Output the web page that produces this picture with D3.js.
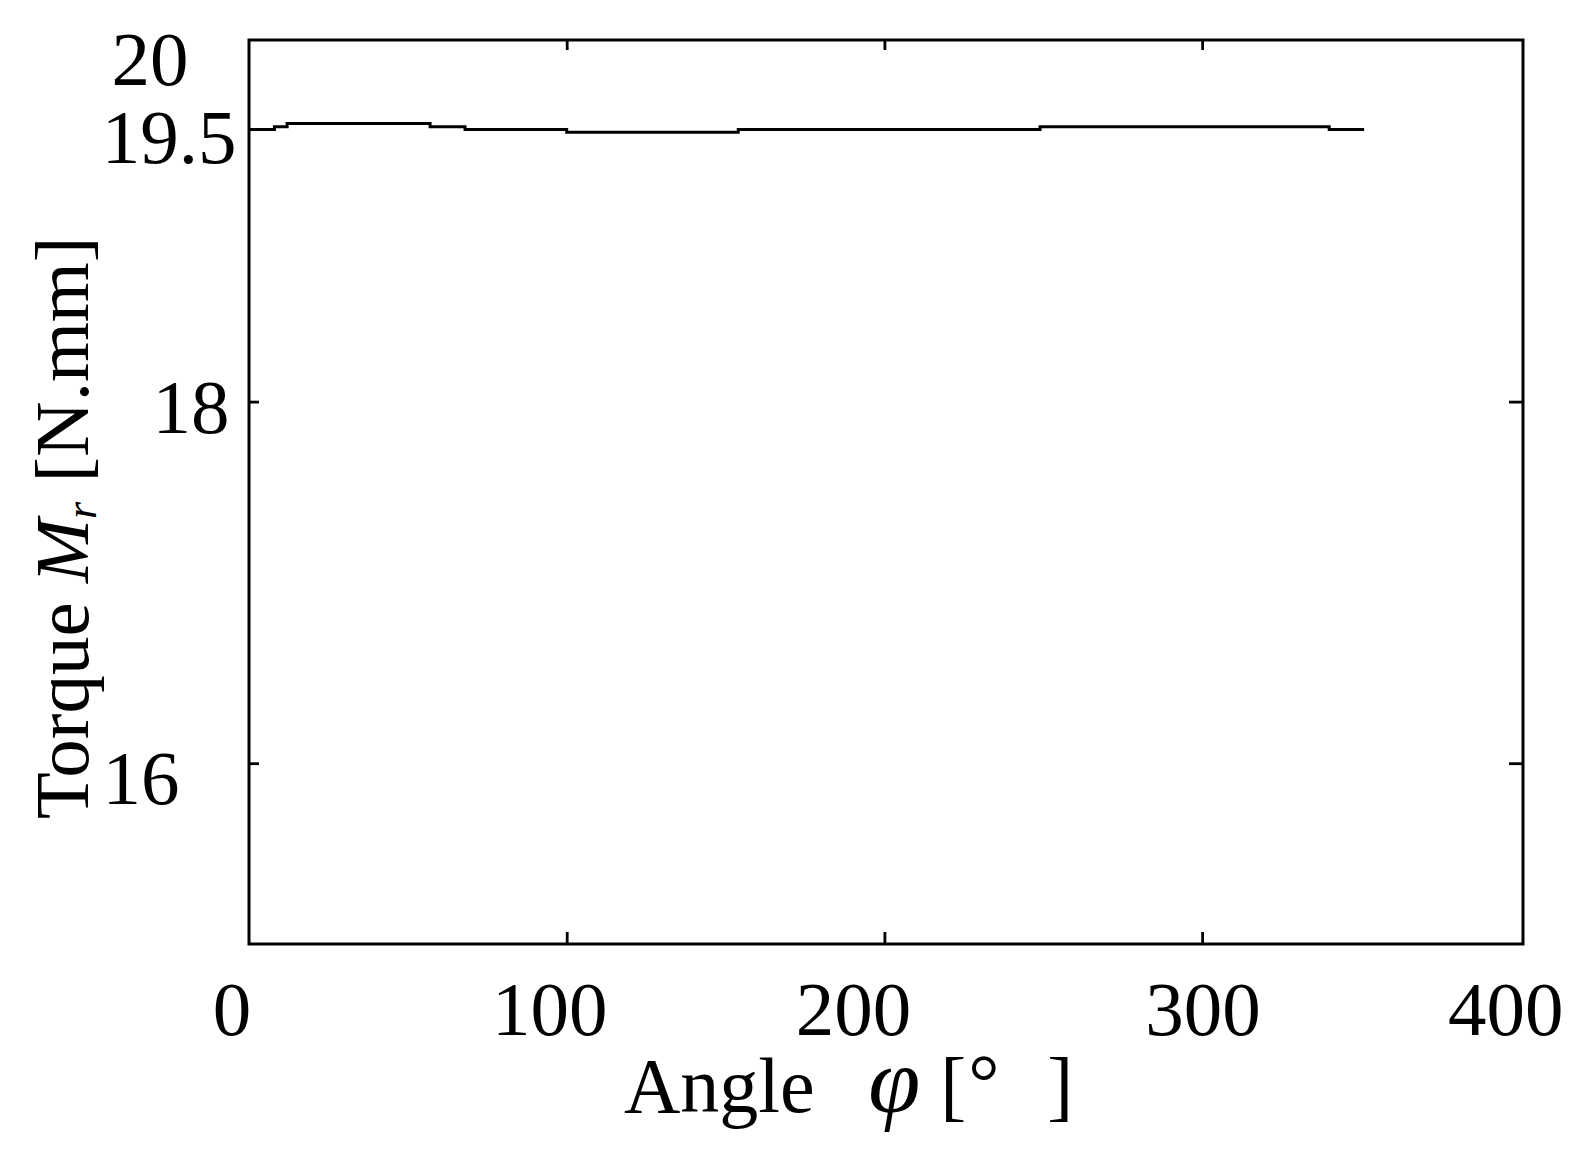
<!DOCTYPE html>
<html>
<head>
<meta charset="utf-8">
<script src="https://cdn.jsdelivr.net/npm/d3@7"></script>
<style>
  body { margin: 0; background: #fff; }
  text { font-family: "Liberation Serif", "Times New Roman", serif; fill: #000; }
</style>
</head>
<body>
<div id="chart"></div>
<script>
// data
const angles = [0, 8, 12, 57, 68, 100, 154, 249, 340, 351];
const torque = [19.505, 19.52, 19.538, 19.52, 19.505, 19.49, 19.505, 19.52, 19.505, 19.505];

const xTicks = [0, 100, 200, 300, 400];
const xTickLabels = ["0", "100", "200", "300", "400"];
const yTicks = [16, 18, 19.5, 20];
const yTickLabels = ["16", "18", "19.5", "20"];

// layout
const W = 1586, H = 1161;
const margin = {top: 40, right: 63, bottom: 217, left: 249};

const svg = d3.select("#chart")
  .append("svg")
  .attr("width", W)
  .attr("height", H);

const x = d3.scaleLinear()
  .domain([0, 401])
  .range([margin.left, W - margin.right]);

const y = d3.scaleLinear()
  .domain([15, 20])
  .range([H - margin.bottom, margin.top]);

// inner ticks (no labels) on all four sides
svg.append("g")
  .attr("transform", `translate(0,${y(15)})`)
  .call(d3.axisTop(x).tickValues([100, 200, 300]).tickSize(12).tickFormat(""))
  .call(g => g.select(".domain").remove());

svg.append("g")
  .attr("transform", `translate(0,${y(20)})`)
  .call(d3.axisBottom(x).tickValues([100, 200, 300]).tickSize(10).tickFormat(""))
  .call(g => g.select(".domain").remove());

svg.append("g")
  .attr("transform", `translate(${x(0)},0)`)
  .call(d3.axisRight(y).tickValues([16, 18]).tickSize(10).tickFormat(""))
  .call(g => g.select(".domain").remove());

svg.append("g")
  .attr("transform", `translate(${x(401)},0)`)
  .call(d3.axisLeft(y).tickValues([16, 18]).tickSize(14).tickFormat(""))
  .call(g => g.select(".domain").remove());

svg.selectAll(".tick line")
  .attr("stroke", "#000")
  .attr("stroke-width", 2.8);

// frame
svg.append("rect")
  .attr("x", x(0))
  .attr("y", y(20))
  .attr("width", x(401) - x(0))
  .attr("height", y(15) - y(20))
  .attr("fill", "none")
  .attr("stroke", "#000")
  .attr("stroke-width", 3);

// x tick labels (placed a bit off their ticks, like the original)
const xNudge = [-17, -17, -31, 1, -14];
svg.append("g")
  .selectAll("text")
  .data(xTicks)
  .join("text")
  .attr("x", (d, i) => x(d) + xNudge[i])
  .attr("y", y(15) + 91)
  .attr("text-anchor", "middle")
  .style("font-size", "77px")
  .text((d, i) => xTickLabels[i]);

// y tick labels
const yNudge = [[-108, 41], [-58, 31], [-80, 33], [-99, 45]];
svg.append("g")
  .selectAll("text")
  .data(yTicks)
  .join("text")
  .attr("x", (d, i) => x(0) + yNudge[i][0])
  .attr("y", (d, i) => y(d) + yNudge[i][1])
  .attr("text-anchor", "middle")
  .style("font-size", "77px")
  .text((d, i) => yTickLabels[i]);

// the curve
const line = d3.line()
  .x((d, i) => x(angles[i]))
  .y(d => y(d))
  .curve(d3.curveStepAfter);

svg.append("path")
  .datum(torque)
  .attr("fill", "none")
  .attr("stroke", "#000")
  .attr("stroke-width", 3)
  .attr("d", line);

// x axis title
const xt = svg.append("text")
  .attr("x", 624)
  .attr("y", 1112)
  .style("font-size", "78px")
  .attr("xml:space", "preserve");
xt.append("tspan").text("Angle ");
xt.append("tspan").attr("dx", 34).style("font-style", "italic").style("font-size", "94px").text("φ");
xt.append("tspan").attr("dx", 20).text("[");
xt.append("tspan").attr("dx", 2).attr("dy", -4).text("°");
xt.append("tspan").attr("dx", 48).attr("dy", 4).text("]");

// y axis title
const yt = svg.append("text")
  .attr("transform", "translate(88,528) rotate(-90)")
  .attr("text-anchor", "middle")
  .style("font-size", "77px");
yt.append("tspan").text("Torque ");
yt.append("tspan").style("font-style", "italic").text("M");
yt.append("tspan").style("font-style", "italic").style("font-size", "44px").attr("dy", 8).text("r");
yt.append("tspan").attr("dy", -8).text(" [N.mm]");
</script>
</body>
</html>
